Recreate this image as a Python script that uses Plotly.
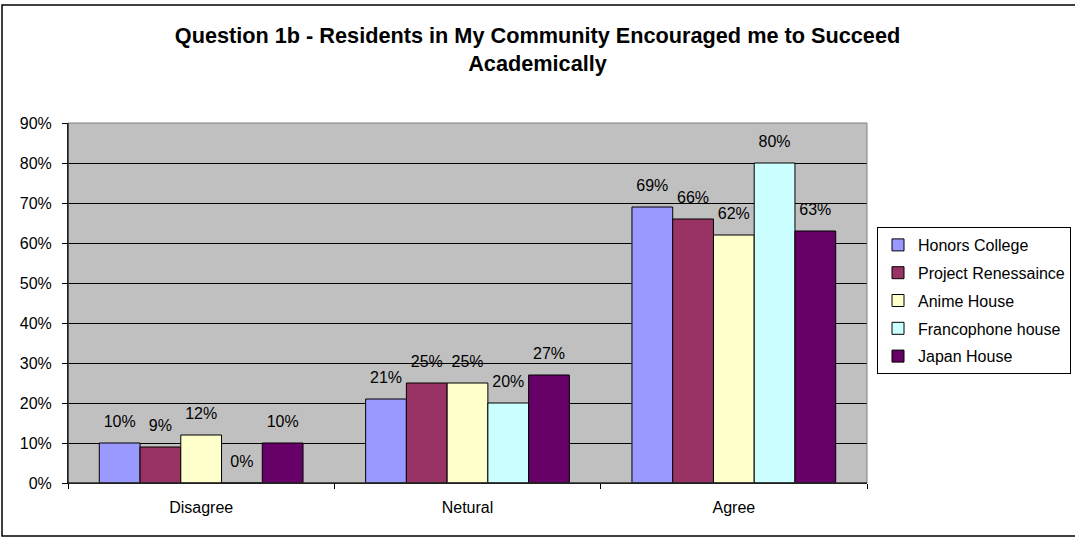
import plotly.graph_objects as go

categories = ["Disagree", "Netural", "Agree"]
series_names = ["Honors College", "Project Renessaince", "Anime House", "Francophone house", "Japan House"]
honors = [0.10, 0.21, 0.69]
project = [0.09, 0.25, 0.66]
anime = [0.12, 0.25, 0.62]
franco = [0.00, 0.20, 0.80]
japan = [0.10, 0.27, 0.63]
series_values = [honors, project, anime, franco, japan]
colors = ["#9999FF", "#993366", "#FFFFCC", "#CCFFFF", "#660066"]

FONT = "Liberation Sans, Arial, sans-serif"
GAP = 0.235

fig = go.Figure()
for i, (name, vals, col) in enumerate(zip(series_names, series_values, colors)):
    fig.add_trace(go.Bar(
        x=categories, y=vals, name=name,
        marker=dict(color=col, line=dict(color="black", width=1)),
        legendgroup=f"g{i}", offsetgroup=f"g{i}",
    ))
# value labels, grouped the same way as the bars
for i, (name, vals) in enumerate(zip(series_names, series_values)):
    fig.add_trace(go.Scatter(
        x=categories, y=vals, mode="markers+text",
        marker=dict(size=17, color="rgba(0,0,0,0)"),
        text=[f"{round(v*100)}%" for v in vals],
        textposition="top center", cliponaxis=False,
        textfont=dict(family=FONT, size=16, color="black"),
        showlegend=False, hoverinfo="skip", offsetgroup=f"g{i}",
    ))

L, R, T, B = 68, 867, 123, 483
W, H = 1075, 538
pw, ph = R - L, B - T

def px(x):
    return (x - L) / pw

def py(y):
    return (B - y) / ph

fig.update_layout(
    width=W, height=H,
    margin=dict(l=L, r=W - R, t=T, b=H - B, pad=0, autoexpand=False),
    paper_bgcolor="white", plot_bgcolor="#C0C0C0",
    barmode="group", bargap=GAP, bargroupgap=0,
    scattermode="group", scattergap=GAP,
    font=dict(family=FONT, size=16, color="black"),
    title=dict(
        text="<b>Question 1b - Residents in My Community Encouraged me to Succeed<br>Academically</b>",
        x=0.5, xref="container", xanchor="center",
        y=1 - 43 / H, yref="container", yanchor="top",
        font=dict(family=FONT, size=21.7, color="black"),
    ),
    legend=dict(
        xref="container", yref="container",
        x=877 / W, y=1 - 227 / H, xanchor="left", yanchor="top",
        bgcolor="white", bordercolor="black", borderwidth=1,
        font=dict(family=FONT, size=16, color="black"),
        tracegroupgap=4, itemwidth=30,
    ),
    showlegend=True,
)
fig.update_yaxes(
    range=[0, 0.9], dtick=0.1, tickformat=".0%",
    showgrid=True, gridcolor="black", gridwidth=1,
    showline=True, linecolor="black", linewidth=1,
    ticks="outside", ticklen=5, tickcolor="black",
    ticklabelstandoff=7,
    tickfont=dict(family=FONT, size=16, color="black"),
    zeroline=False, fixedrange=True,
)
fig.update_xaxes(
    showline=True, linecolor="black", linewidth=1,
    ticks="outside", ticklen=5, tickcolor="black", tickson="boundaries",
    ticklabelstandoff=10,
    tickfont=dict(family=FONT, size=16, color="black"),
    showgrid=False, fixedrange=True,
)
# plot area border (gray) and outer chart border
fig.add_shape(type="rect", xref="paper", yref="paper", x0=0, x1=1, y0=0, y1=1,
              line=dict(color="#808080", width=1), layer="above")
fig.add_shape(type="line", xref="paper", yref="paper", x0=0, x1=0, y0=0, y1=1,
              line=dict(color="black", width=1), layer="above")
fig.add_shape(type="line", xref="paper", yref="paper", x0=0, x1=1, y0=0, y1=0,
              line=dict(color="black", width=1), layer="above")
fig.add_shape(type="rect", xref="paper", yref="paper",
              x0=px(2), x1=px(1085), y0=py(536), y1=py(5),
              line=dict(color="black", width=1.5), layer="above")

fig.write_html(
    "out.html",
    config={"displayModeBar": False},
    post_script="document.body.style.margin='0';document.body.style.overflow='hidden';",
)
